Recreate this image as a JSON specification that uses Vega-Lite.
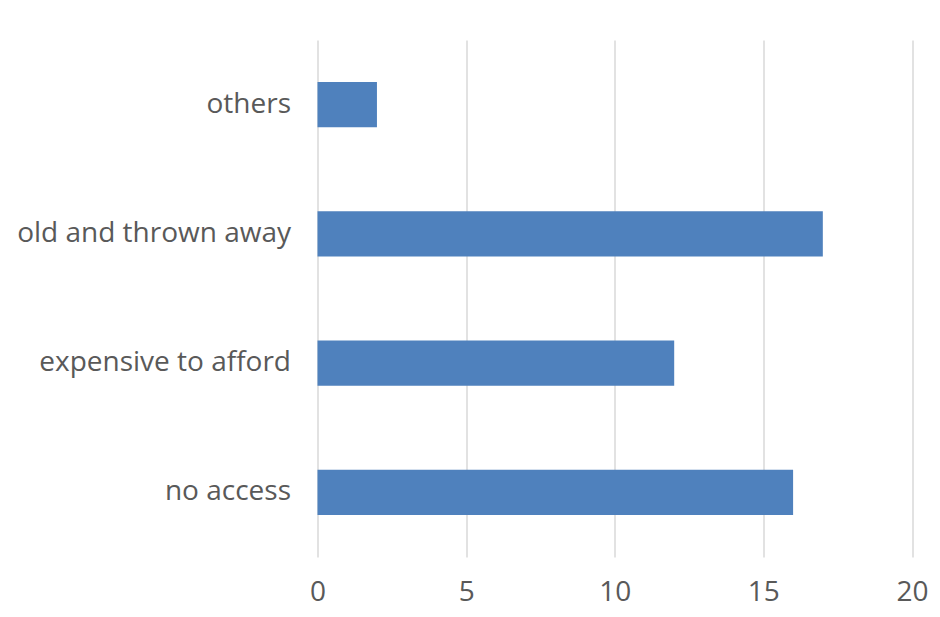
{
  "$schema": "https://vega.github.io/schema/vega-lite/v6.json",
  "width": 594.5,
  "height": 517,
  "autosize": "none",
  "padding": {"left": 317.5, "top": 40, "right": 28, "bottom": 60},
  "background": "white",
  "config": {"view": {"stroke": null}},
  "data": {"values": [
    {"reason": "others", "count": 2},
    {"reason": "old and thrown away", "count": 17},
    {"reason": "expensive to afford", "count": 12},
    {"reason": "no access", "count": 16}
  ]},
  "mark": {"type": "bar", "color": "#4f81bd"},
  "encoding": {
    "y": {
      "field": "reason", "type": "nominal",
      "sort": ["others", "old and thrown away", "expensive to afford", "no access"],
      "scale": {"paddingInner": 0.65, "paddingOuter": 0.325},
      "axis": {"title": null, "domain": false, "ticks": false, "labelFontSize": 28, "labelColor": "#595959", "labelPadding": 27, "labelFont": "Open Sans", "labelLimit": 400}
    },
    "x": {
      "field": "count", "type": "quantitative",
      "scale": {"domain": [0, 20], "nice": false},
      "axis": {"values": [0, 5, 10, 15, 20], "title": null, "domain": false, "ticks": false, "grid": true, "gridColor": "#d9d9d9", "gridWidth": 1.5, "labelFlush": false, "labelFontSize": 28, "labelColor": "#595959", "labelPadding": 21, "labelFont": "Open Sans"}
    }
  }
}
